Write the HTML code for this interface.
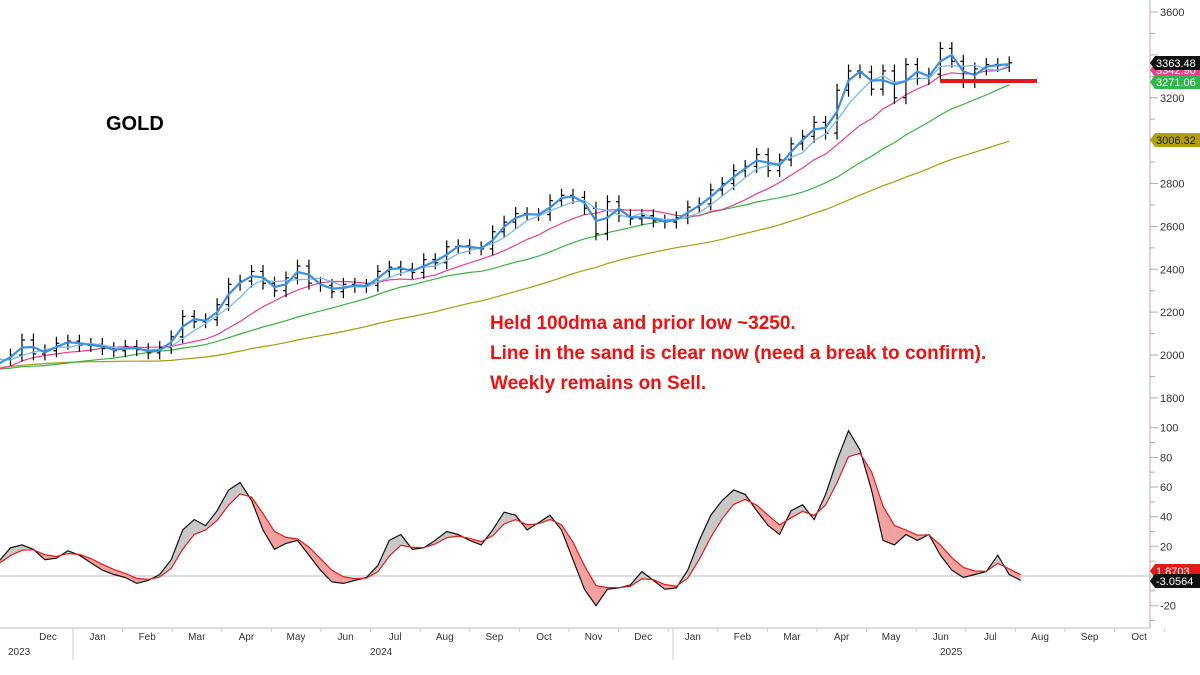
<!DOCTYPE html>
<html><head><meta charset="utf-8"><style>
body{margin:0;background:#fff;}
svg{display:block;font-family:"Liberation Sans",Arial,sans-serif;}
</style></head><body>
<svg id="chart" width="1200" height="675" viewBox="0 0 1200 675" xmlns="http://www.w3.org/2000/svg">
<rect width="1200" height="675" fill="#fff"/>
<g id="grid"></g>
<g id="fills"></g>
<g id="lines"></g>
<g id="bars"></g>
<g id="blue"></g>
<line x1="940" y1="81" x2="1037" y2="81" stroke="#e8161b" stroke-width="4"/>
<text x="106" y="130" font-size="20" font-weight="bold" fill="#000">GOLD</text>
<g font-size="19" font-weight="bold" fill="#ee1111">
<text x="490" y="329">Held 100dma and prior low ~3250.</text>
<text x="490" y="359">Line in the sand is clear now (need a break to confirm).</text>
<text x="490" y="389">Weekly remains on Sell.</text>
</g>
<g id="axes"></g>
</svg>
<script>
const history=[1860,1840,1820,1850,1870,1920,1980,1970,1990,2000,2010,1990,2020,1990,2015,1980,1960,1945,1960,1955,1930,1920,1925,1960,1960,1950,1930,1915,1940,1915,1925,1865,1830,1850,1920,1980,1990,2005,1990,1940];
const closes=[1980,2000,2070,2005,2020,2055,2065,2045,2050,2030,2020,2040,2025,2010,2035,2085,2180,2155,2165,2235,2330,2345,2390,2335,2300,2360,2415,2335,2325,2295,2330,2320,2325,2390,2410,2400,2385,2445,2430,2505,2510,2500,2495,2575,2620,2660,2655,2655,2720,2745,2735,2685,2565,2715,2650,2635,2650,2625,2620,2640,2690,2705,2770,2800,2860,2880,2935,2860,2910,2985,3020,3085,3035,3235,3325,3320,3240,3325,3200,3355,3290,3310,3430,3370,3275,3335,3355,3350,3363];
const osc=[10,19,21,18,11,12,17,14,9,4,1,-1,-5,-3,1,11,31,38,34,44,58,63,51,31,18,22,24,14,4,-4,-5,-3,-1,7,24,28,18,19,24,30,28,24,21,31,43,41,31,36,41,31,11,-9,-20,-9,-8,-6,3,-3,-9,-8,4,24,41,51,58,55,44,34,28,44,48,38,55,78,98,85,58,24,21,28,24,28,14,4,-1,1,3,14,1,-3];
const priceTicks=[1800,2000,2200,2400,2600,2800,3200,3600];
const oscTicks=[-20,20,40,60,80,100];
const months=["Dec","Jan","Feb","Mar","Apr","May","Jun","Jul","Aug","Sep","Oct","Nov","Dec","Jan","Feb","Mar","Apr","May","Jun","Jul","Aug","Sep","Oct"];
const years=["2023","2024","2025"];
const NS="http://www.w3.org/2000/svg";
function mk(tag,attrs,parent){const e=document.createElementNS(NS,tag);for(const k in attrs)e.setAttribute(k,attrs[k]);parent.appendChild(e);return e;}
const xOf=i=>-1+i*11.48;
const yP=p=>12+(3600-p)*0.2144;
const yO=v=>576-v*1.483;
const grid=document.getElementById('grid'),fills=document.getElementById('fills'),lines=document.getElementById('lines'),bars=document.getElementById('bars'),axes=document.getElementById('axes'),blue=document.getElementById('blue');
let a=mk('line',{x1:1150,y1:0,x2:1150,y2:628,stroke:'#b9aaa5'},axes);

a=mk('line',{x1:0,y1:628,x2:1150,y2:628,stroke:'#bbb'},axes);

a=mk('line',{x1:0,y1:576,x2:1150,y2:576,stroke:'#bbb'},grid);

for(let p=1800;p<=3600;p+=100){mk('line',{x1:1150,y1:yP(p),x2:p%200?1155:1158,y2:yP(p),stroke:'#b9aaa5'},axes);}
priceTicks.forEach(p=>{const t=mk('text',{x:1160,y:yP(p)+4,'font-size':11,fill:'#333'},axes);t.textContent=p;
});
for(let v=-30;v<=100;v+=10){mk('line',{x1:1150,y1:yO(v),x2:v%20?1155:1158,y2:yO(v),stroke:'#b9aaa5'},axes);}
oscTicks.forEach(v=>{const t=mk('text',{x:1160,y:yO(v)+4,'font-size':11,fill:'#333'},axes);t.textContent=v;
});
months.forEach((m,i)=>{const cx=48+i*49.6;const t=mk('text',{x:cx,y:640,'font-size':10,fill:'#333','text-anchor':'middle'},axes);t.textContent=m;

mk('line',{x1:cx+25,y1:628,x2:cx+25,y2:632,stroke:'#ccc'},axes);});
[[8,655],[370,655],[940,655]].forEach((p,i)=>{const t=mk('text',{x:p[0],y:p[1],'font-size':10,fill:'#333'},axes);t.textContent=years[i];
});
[73,673].forEach(x=>mk('line',{x1:x,y1:628,x2:x,y2:660,stroke:'#ccc'},axes));
// SMAs over history + closes
const all=history.concat(closes);
function sma(n){return closes.map((_,i)=>{const e=history.length+i+1;let s=0;for(let k=e-n;k<e;k++)s+=all[k];return s/n;});}
function path(vals,yf){return vals.map((v,i)=>(i?'L':'M')+xOf(i).toFixed(1)+','+yf(v).toFixed(1)).join('');}
const mas=[[40,'#a89a10',1.2,'ma-200',lines],[20,'#3cb043',1.2,'ma-100',lines],[10,'#e8408a',1.2,'ma-50',lines],[4,'#7ab8f0',1.3,'ma-20',blue],[2,'#3d8fe0',2.2,'ma-10',blue]];
mas.forEach(m=>{const p=mk('path',{d:path(sma(m[0]),yP),fill:'none',stroke:m[1],'stroke-width':m[2]},m[4]);
});
closes.forEach((c,i)=>{const o=i?closes[i-1]:c;const x=xOf(i);const h=Math.max(o,c)+30,l=Math.min(o,c)-30;
const g=mk('g',{stroke:'#000','stroke-width':1.2},bars);

mk('line',{x1:x,y1:yP(h),x2:x,y2:yP(l)},g);mk('line',{x1:x-3,y1:yP(o),x2:x,y2:yP(o)},g);mk('line',{x1:x,y1:yP(c),x2:x+3,y2:yP(c)},g);});
function ema(arr,n,seed){const k=2/(n+1);let e=seed;return arr.map(v=>e=e+(v-e)*k);}
const sig=ema(osc,3,osc[0]-3);
for(let i=0;i<osc.length-1;i++){const d=(osc[i]-sig[i])+(osc[i+1]-sig[i+1]);
const q=mk('polygon',{points:`${xOf(i)},${yO(osc[i])} ${xOf(i+1)},${yO(osc[i+1])} ${xOf(i+1)},${yO(sig[i+1])} ${xOf(i)},${yO(sig[i])}`,fill:d>0?'#c8c8c8':'#f3a0a0'},fills);
}
let p=mk('path',{d:path(osc,yO),fill:'none',stroke:'#111','stroke-width':1.2},lines);

p=mk('path',{d:path(sig,yO),fill:'none',stroke:'#e31a1a','stroke-width':1.2},lines);

[[70,'#e8408a','#fff','3342.90'],[63,'#111','#fff','3363.48'],[82,'#2eb84a','#fff','3271.06'],[140,'#b0a010','#222','3006.32'],[571,'#e31a1a','#fff','1.8703'],[581,'#111','#fff','-3.0564']].forEach(t=>{
const g=mk('g',{},axes);
mk('polygon',{points:`1150,${t[0]} 1155,${t[0]-7} 1200,${t[0]-7} 1200,${t[0]+7} 1155,${t[0]+7}`,fill:t[1]},g);
const tx=mk('text',{x:1156,y:t[0]+4,'font-size':11,fill:t[2]},g);tx.textContent=t[3];});
</script>
</body></html>
